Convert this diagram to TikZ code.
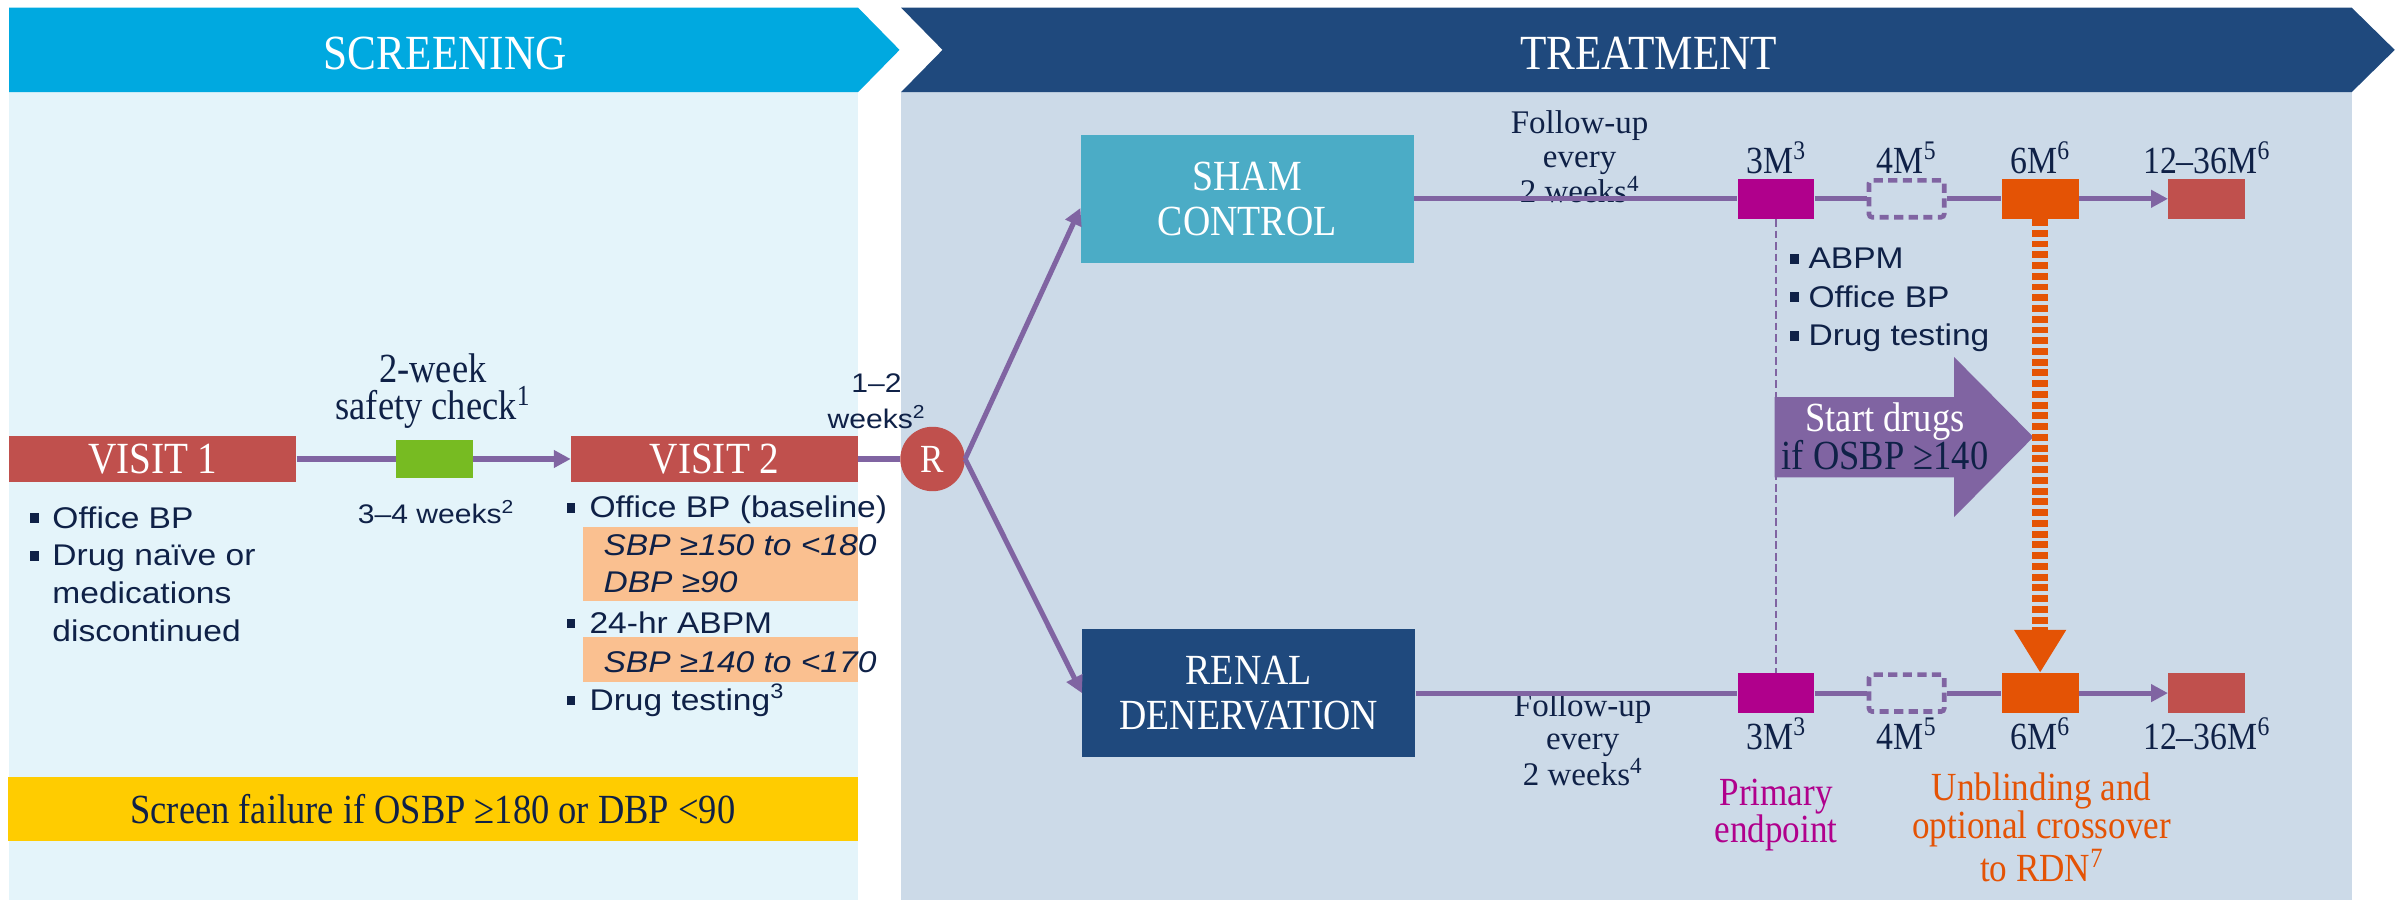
\documentclass[tikz,border=0pt]{standalone}
\usepackage{fontspec}
\setmainfont{Liberation Serif}[FakeStretch=0.88]
\setsansfont{Liberation Sans}[FakeStretch=1.12]
\newfontfamily\plainserif{Liberation Serif}
\usepackage{xcolor}
\usetikzlibrary{arrows.meta, positioning, calc}

\definecolor{screenblue}{RGB}{0,169,224}
\definecolor{screenbg}{RGB}{228,244,250}
\definecolor{treatnavy}{RGB}{31,73,125}
\definecolor{treatbg}{RGB}{204,218,232}
\definecolor{visitred}{RGB}{192,80,77}
\definecolor{safegreen}{RGB}{119,187,34}
\definecolor{peach}{RGB}{250,192,144}
\definecolor{warnyellow}{RGB}{255,204,0}
\definecolor{flowpurple}{RGB}{128,100,162}
\definecolor{shamteal}{RGB}{75,172,198}
\definecolor{endmagenta}{RGB}{176,0,140}
\definecolor{crossorange}{RGB}{228,83,5}
\definecolor{inknavy}{RGB}{15,33,71}

\newcommand{\bulletsq}{\textcolor{inknavy}{\rule[0.16em]{0.28em}{0.33em}}}

\begin{document}
\begin{tikzpicture}[
    x=1pt, y=-1pt,
    every node/.style={inner sep=0pt, text=inknavy},
    header/.style={anchor=base, text=white, font=\fontsize{32}{34}\selectfont},
    visit/.style={rectangle, fill=visitred, text=white, minimum width=187pt, minimum height=29.5pt, font=\fontsize{29}{30}\selectfont},
    arm/.style={rectangle, text=white, minimum width=217pt, minimum height=83pt, align=center, font=\fontsize{28}{29.5}\selectfont},
    mbox/.style={rectangle, minimum width=50pt, minimum height=26pt},
    mopen/.style={rectangle, draw=flowpurple, line width=3pt, dash pattern=on 6pt off 3.5pt, rounded corners=2pt, minimum width=49pt, minimum height=24pt},
    mlabel/.style={anchor=base, font=\fontsize{25}{26}\selectfont},
    blist/.style={anchor=base west, font=\sffamily\fontsize{19.5}{24.7}\selectfont},
    crit/.style={anchor=base west, align=left, font=\sffamily\itshape\fontsize{19.5}{24}\selectfont},
    critbox/.style={rectangle, fill=peach, minimum width=179pt},
    note/.style={anchor=base, align=center, font=\fontsize{24}{22.5}\selectfont},
    fu/.style={anchor=base, align=center, font=\plainserif\fontsize{21.5}{22}\selectfont},
    smallsans/.style={anchor=base, align=center, font=\sffamily\fontsize{17.5}{23}\selectfont},
    link/.style={draw=flowpurple, line width=3.3pt},
    flow/.style={link, -{Triangle[length=11pt,width=11pt]}},
    crossarrow/.style={draw=crossorange, line width=10pt, dash pattern=on 4.5pt off 2.5pt, -{Triangle[length=28pt,width=32pt]}}
]
\useasboundingbox (0,0) rectangle (1568,586);

% Phase panels
\fill[screenbg] (6,60) rectangle (559,586);
\fill[treatbg] (587,60) rectangle (1532,586);
\fill[screenblue] (6,5) -- (559,5) -- (586,32.5) -- (559,60) -- (6,60) -- cycle;
\fill[treatnavy] (587,5) -- (1532,5) -- (1560,32.5) -- (1532,60) -- (587,60) -- (614,32.5) -- cycle;
\node[header] (screenhead) at (290,45) {SCREENING};
\node[header] (treathead) at (1074,45) {TREATMENT};

% Screening visits (multi-line notes sit on their last baseline)
\node[visit] (visit1) at (99.5,299) {VISIT 1};
\node[rectangle, fill=safegreen, minimum width=50pt, minimum height=25pt] (safety) at (283,299) {};
\node[visit] (visit2) at (465.5,299) {VISIT 2};
\node[note, font=\fontsize{27}{24.5}\selectfont] (safetylab) at (282,273.5) {2-week\\safety check\textsuperscript{1}};
\node[smallsans] (gap1) at (284,341) {3–4 weeks\textsuperscript{2}};

% Visit 1 notes
\node[blist] (v1notes) at (19.5,344) {\begin{tabular}[t]{@{}l@{\hspace{9pt}}l@{}}\bulletsq & Office BP\\ \bulletsq & Drug naïve or\\ & medications\\ & discontinued\end{tabular}};

% Visit 2 notes
\node[blist] (v2office) at (369,337) {\bulletsq\hspace{9.4pt}Office BP (baseline)};
\node[critbox, minimum height=48pt] (critA) at (469.5,367.5) {};
\node[crit] (critAtext) at (393,386) {SBP ≥150 to <180\\DBP ≥90};
\node[blist] (v2abpm) at (369,412.5) {\bulletsq\hspace{9.4pt}24-hr ABPM};
\node[critbox, minimum height=29pt] (critB) at (469.5,429.5) {};
\node[crit] (critBtext) at (393,438) {SBP ≥140 to <170};
\node[blist] (v2drug) at (369,462.7) {\bulletsq\hspace{9.4pt}Drug testing\textsuperscript{3}};

% Screen failure bar
\node[rectangle, fill=warnyellow, minimum width=554pt, minimum height=42pt, font=\fontsize{27}{28}\selectfont] (fail) at (282,527) {Screen failure if OSBP ≥180 or DBP <90};

% Randomisation
\node[smallsans] (gap2) at (571,279) {1–2\\weeks\textsuperscript{2}};
\node[circle, fill=visitred, text=white, minimum size=42pt, font=\fontsize{26}{27}\selectfont] (rand) at (607.5,299) {R};

% Arms
\node[arm, fill=shamteal] (sham) at (812.5,129.5) {SHAM\\CONTROL};
\node[arm, fill=treatnavy] (renal) at (813.5,451.5) {RENAL\\DENERVATION};
\node[fu] (fuA) at (1029,132) {Follow-up\\every\\2 weeks\textsuperscript{4}};
\node[fu] (fuB) at (1031,511.5) {Follow-up\\every\\2 weeks\textsuperscript{4}};

% Follow-up visits, sham arm
\node[mbox, fill=endmagenta] (m3a) at (1157,129.5) {};
\node[mopen] (m4a) at (1242,129.5) {};
\node[mbox, fill=crossorange] (m6a) at (1329,129.5) {};
\node[mbox, fill=visitred] (m12a) at (1437.5,129.5) {};
\node[mlabel] (m3alab) at (m3a |- 0,113) {3M\textsuperscript{3}};
\node[mlabel] (m4alab) at (m4a |- 0,113) {4M\textsuperscript{5}};
\node[mlabel] (m6alab) at (m6a |- 0,113) {6M\textsuperscript{6}};
\node[mlabel] (m12alab) at (m12a |- 0,113) {12–36M\textsuperscript{6}};

% Follow-up visits, RDN arm
\node[mbox, fill=endmagenta] (m3b) at (1157,451.5) {};
\node[mopen] (m4b) at (1242,451.5) {};
\node[mbox, fill=crossorange] (m6b) at (1329,451.5) {};
\node[mbox, fill=visitred] (m12b) at (1437.5,451.5) {};
\node[mlabel] (m3blab) at (m3b |- 0,488) {3M\textsuperscript{3}};
\node[mlabel] (m4blab) at (m4b |- 0,488) {4M\textsuperscript{5}};
\node[mlabel] (m6blab) at (m6b |- 0,488) {6M\textsuperscript{6}};
\node[mlabel] (m12blab) at (m12b |- 0,488) {12–36M\textsuperscript{6}};

% 3M assessments
\node[blist, font=\sffamily\fontsize{19.5}{25}\selectfont] (checks) at (1166,175) {\begin{tabular}[t]{@{}l@{\hspace{6.5pt}}l@{}}\bulletsq & ABPM\\ \bulletsq & Office BP\\ \bulletsq & Drug testing\end{tabular}};

% Start drugs arrow
\fill[flowpurple] (1156,258.7) -- (1273,258.7) -- (1273,232.6) -- (1324.6,284.7) -- (1273,336.8) -- (1273,311) -- (1156,311) -- cycle;
\node[note, font=\fontsize{27}{25}\selectfont] (startdrugs) at (1228,306) {\textcolor{white}{Start drugs}\\if OSBP ≥140};

% Endpoint notes
\node[note, text=endmagenta, font=\fontsize{26}{24.5}\selectfont] (primary) at (1157,549) {Primary\\endpoint};
\node[note, text=crossorange, font=\fontsize{26}{24.8}\selectfont] (unblind) at (1330,574) {Unblinding and\\optional crossover\\to RDN\textsuperscript{7}};

% Connectors
\draw[link] (visit1) -- (safety);
\draw[flow] (safety) -- (visit2);
\draw[link] (visit2) -- (rand);
\draw[flow] (rand.east) -- ([yshift=-6pt]sham.west);
\draw[flow] (rand.east) -- (renal.west);
\draw[link] (sham) -- (m3a);
\draw[link] (m3a) -- (m4a);
\draw[link] (m4a) -- (m6a);
\draw[flow] (m6a) -- (m12a);
\draw[link] (renal) -- (m3b);
\draw[link] (m3b) -- (m4b);
\draw[link] (m4b) -- (m6b);
\draw[flow] (m6b) -- (m12b);
\draw[draw=flowpurple, line width=1.2pt, dash pattern=on 5pt off 2.5pt] (m3a) -- (m3b);
\draw[crossarrow] (m6a) -- (m6b);

\end{tikzpicture}
\end{document}
